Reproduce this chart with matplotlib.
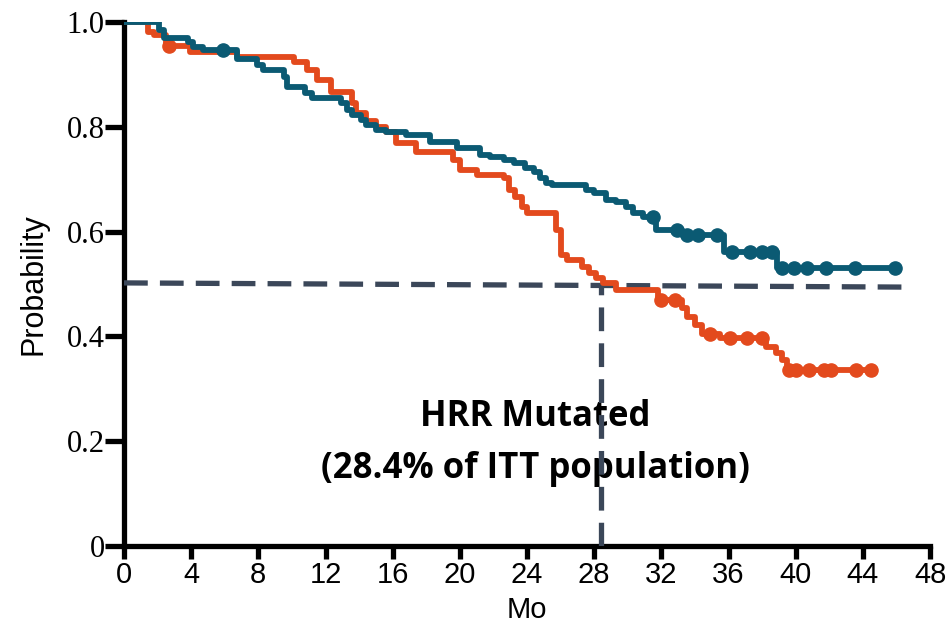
import numpy as np
import matplotlib
matplotlib.use("Agg")
import matplotlib.pyplot as plt

#--- step data ---#
teal_t = [0, 2.1, 2.4, 3.8, 4.1, 4.7, 6.7, 7.9, 8.3, 9.5, 9.7, 10.8, 11.2, 12.9, 13.3,
          13.6, 14.1, 14.4, 15.0, 15.6, 16.8, 18.2, 19.8, 21.2, 21.8, 22.6, 23.2, 23.9,
          24.4, 24.8, 25.1, 25.5, 27.5, 28.0, 28.7, 29.3, 29.9, 30.3, 30.9, 31.7, 33.2,
          35.7, 38.9, 46.0]
teal_s = [1.0, 0.985, 0.97, 0.962, 0.952, 0.947, 0.93, 0.918, 0.908, 0.895, 0.876, 0.865,
          0.855, 0.845, 0.832, 0.823, 0.813, 0.803, 0.794, 0.79, 0.784, 0.771, 0.759, 0.746,
          0.742, 0.737, 0.73, 0.721, 0.714, 0.702, 0.693, 0.689, 0.679, 0.673, 0.66, 0.656,
          0.647, 0.635, 0.628, 0.603, 0.594, 0.561, 0.531, 0.531]
teal_cens = [5.9, 31.5, 32.9, 33.5, 34.2, 35.3, 36.2, 37.3, 38.0, 38.6, 39.2, 39.9,
             40.7, 41.8, 43.5, 45.9]

orange_t = [0, 1.4, 1.8, 2.5, 3.9, 6.7, 10.1, 10.9, 11.5, 12.3, 13.6, 13.8, 14.4, 15.0,
            15.6, 16.2, 17.4, 19.6, 20.0, 21.0, 22.6, 22.9, 23.3, 23.7, 24.0, 25.7, 26.0,
            26.4, 27.3, 27.7, 28.1, 28.5, 29.3, 31.8, 33.2, 33.5, 34.0, 34.4, 35.5, 38.2,
            38.8, 39.2, 39.5, 44.6]
orange_s = [1.0, 0.981, 0.975, 0.954, 0.943, 0.933, 0.924, 0.908, 0.889, 0.867, 0.845,
            0.826, 0.81, 0.8, 0.79, 0.769, 0.752, 0.737, 0.718, 0.708, 0.702, 0.679, 0.666,
            0.647, 0.635, 0.603, 0.555, 0.546, 0.532, 0.521, 0.511, 0.502, 0.488, 0.469,
            0.454, 0.437, 0.422, 0.405, 0.397, 0.38, 0.368, 0.355, 0.336, 0.336]
orange_cens = [2.7, 32.0, 32.8, 34.9, 36.1, 37.1, 38.0, 39.6, 40.0, 40.8, 41.7, 42.1,
               43.6, 44.5]

median_x = 28.4
hline_x = [0, 46.5]
hline_y = [0.502, 0.494]

x_ticks = list(range(0, 49, 4))
y_ticks = [0, 0.2, 0.4, 0.6, 0.8, 1.0]
y_labels = ["0", "0.2", "0.4", "0.6", "0.8", "1.0"]

TEAL = "#0b5a73"
ORANGE = "#e34a1d"
DASH = "#3b4759"
SANS = "Liberation Sans"


#--- survival value at censor times ---#
def step_at(t, s, c):
    idx = np.searchsorted(np.asarray(t), np.asarray(c), side="right") - 1
    return np.asarray(s)[idx]


fig = plt.figure(figsize=(9.51, 6.26), dpi=100)
ax = fig.add_axes([0.1304, 0.1278, 0.978 - 0.1304, 0.965 - 0.1278])

# dashed median guides
ax.plot(hline_x, hline_y, color=DASH, lw=3.8, dashes=(4.5, 2.3), zorder=3)
ax.plot([median_x, median_x], [0, 0.5], color=DASH, lw=3.8, dashes=(4.5, 2.3), zorder=3)

# curves
ax.plot(orange_t, orange_s, drawstyle="steps-post", color=ORANGE, lw=4.2, zorder=4)
ax.plot(orange_cens, step_at(orange_t, orange_s, orange_cens), "o", color=ORANGE,
        ms=9.5, zorder=4)
ax.plot(teal_t, teal_s, drawstyle="steps-post", color=TEAL, lw=4.2, zorder=5)
ax.plot(teal_cens, step_at(teal_t, teal_s, teal_cens), "o", color=TEAL, ms=9.5, zorder=5)

ax.text(24.5, 0.197, "HRR Mutated\n(28.4% of ITT population)", ha="center", va="center",
        fontsize=25, fontweight="bold", family="Open Sans", linespacing=1.6, zorder=2)

ax.set_xlim(0, 48)
ax.set_ylim(0, 1.0)
for side in ["top", "right"]:
    ax.spines[side].set_visible(False)
for side in ["left", "bottom"]:
    ax.spines[side].set_linewidth(3.8)
    ax.spines[side].set_color("black")

ax.set_xticks(x_ticks)
ax.set_xticklabels([str(x) for x in x_ticks], family=SANS, fontsize=21)
ax.set_yticks(y_ticks)
ax.set_yticklabels(y_labels, family="Liberation Serif", fontsize=22)
ax.tick_params(axis="x", length=9, width=3.8, pad=2, color="black")
ax.tick_params(axis="y", length=14, width=3.8, pad=0, color="black")

ax.set_xlabel("Mo", family=SANS, fontsize=21, labelpad=5)
ax.set_ylabel("Probability", family=SANS, fontsize=22, labelpad=13)

fig.savefig("out.png", dpi=100)
